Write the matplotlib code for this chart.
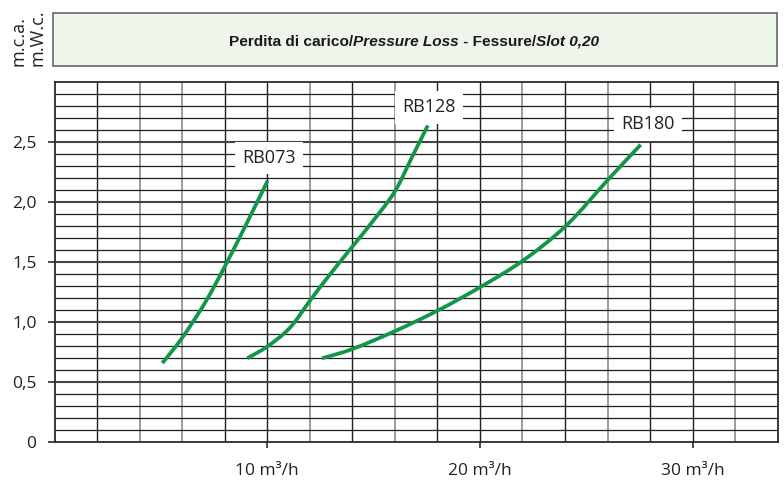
import matplotlib
matplotlib.use("Agg")
import matplotlib.pyplot as plt
from matplotlib.offsetbox import TextArea, HPacker, AnchoredOffsetbox
from matplotlib.patches import Rectangle, PathPatch
from matplotlib.path import Path
import numpy as np

# ---------------- data ----------------
rb073_x = [5.07, 6.00, 7.10, 8.05, 9.05, 10.02]
rb073_y = [0.66, 0.87, 1.17, 1.48, 1.83, 2.18]

rb128_x = [9.06, 10.02, 11.07, 12.05, 13.00, 14.00, 15.00, 16.00, 16.79, 17.55]
rb128_y = [0.70, 0.80, 0.955, 1.19, 1.41, 1.63, 1.85, 2.09, 2.37, 2.64]

rb180_x = [12.58, 14.05, 16.05, 18.04, 20.08, 22.07, 24.08, 26.08, 27.56]
rb180_y = [0.70, 0.78, 0.93, 1.10, 1.30, 1.52, 1.81, 2.20, 2.48]

series_names = ["RB073", "RB128", "RB180"]
label_pos = [(10.08, 2.37), (17.6, 2.79), (27.9, 2.65)]

y_ticks = [0, 0.5, 1.0, 1.5, 2.0, 2.5]
y_ticklabels = ["0", "0,5", "1,0", "1,5", "2,0", "2,5"]
x_ticks = [10, 20, 30]
x_ticklabels = ["10 m³/h", "20 m³/h", "30 m³/h"]
title_parts = [("Perdita di carico/", "normal"), ("Pressure Loss", "italic"),
               (" - Fessure/", "normal"), ("Slot 0,20", "italic")]
unit_labels = ["m.c.a.", "m.W.c."]

# ---------------- figure ----------------
W, H = 784, 482
fig = plt.figure(figsize=(W / 100, H / 100), dpi=100)
plt.rcParams['font.family'] = ['Open Sans', 'DejaVu Sans']

left, right, top, bottom = 54.5, 777.7, 82.3, 442.3
ax = fig.add_axes([left / W, 1 - bottom / H, (right - left) / W, (bottom - top) / H])
ax.set_xlim(0, 34)
ax.set_ylim(0, 3.0)

green = "#13954a"

# grid
grey_x = {4, 6, 12, 16, 22, 26, 32}
for gx in range(2, 34, 2):
    if gx in grey_x:
        ax.axvline(gx, color="#8a8a8a", lw=1.2, zorder=1)
    else:
        ax.axvline(gx, color="#1e1e1e", lw=1.0, zorder=1)
for i in range(1, 30):
    gy = i / 10
    if i % 5 == 0:
        ax.axhline(gy, color="#444444", lw=1.5, zorder=1)
    else:
        ax.axhline(gy, color="#1e1e1e", lw=0.9, zorder=1)

for s in ax.spines.values():
    s.set_color("#2a2a2a")
    s.set_linewidth(1.3)


def smooth_path(xs, ys):
    """Catmull-Rom path through the given points, as cubic Bezier segments."""
    p = np.column_stack([xs, ys]).astype(float)
    n = len(p)
    verts = [p[0]]
    codes = [Path.MOVETO]
    for i in range(n - 1):
        p0 = p[i - 1] if i > 0 else p[i]
        p1, p2 = p[i], p[i + 1]
        p3 = p[i + 2] if i + 2 < n else p[i + 1]
        c1 = p1 + (p2 - p0) / 6.0
        c2 = p2 - (p3 - p1) / 6.0
        verts += [c1, c2, p2]
        codes += [Path.CURVE4] * 3
    return Path(verts, codes)


# curves
for xs, ys in [(rb073_x, rb073_y), (rb128_x, rb128_y), (rb180_x, rb180_y)]:
    ax.add_patch(PathPatch(smooth_path(xs, ys), fc="none", ec=green, lw=2.7,
                           capstyle="butt", zorder=3))

# labels
for name, (lx, ly) in zip(series_names, label_pos):
    ax.text(lx, ly, name, ha="center", va="center", fontsize=13, color="#222222",
            zorder=4, bbox=dict(boxstyle="square,pad=0.4", fc="white", ec="none"))

# ticks
ax.set_yticks(y_ticks)
ax.set_yticklabels(y_ticklabels, fontsize=12.5, color="#222222")
ax.set_xticks(x_ticks)
ax.set_xticklabels(x_ticklabels, fontsize=12.5, color="#222222")
ax.tick_params(axis="y", length=5, width=1.2, pad=8, color="#2a2a2a")
ax.tick_params(axis="x", length=4, width=1.2, pad=11, color="#2a2a2a")

# title box
bx0, bx1, by0, by1 = 53.3, 777.3, 12.7, 65.7
fig.patches.append(Rectangle((bx0 / W, 1 - by1 / H), (bx1 - bx0) / W, (by1 - by0) / H,
                             transform=fig.transFigure, fc="#eef5ea", ec="#666666", lw=1.2))

fam = ['Liberation Sans Narrow', 'Liberation Sans', 'DejaVu Sans']
areas = [TextArea(t, textprops=dict(fontsize=11.1, fontweight="bold", fontstyle=st,
                                    family=fam, color="#1a1a1a"))
         for t, st in title_parts]
pack = HPacker(children=areas, align="baseline", pad=0, sep=0)
ab = AnchoredOffsetbox(loc="center", child=pack, frameon=False,
                       bbox_to_anchor=(414 / W, 1 - 41.5 / H),
                       bbox_transform=fig.transFigure, borderpad=0, pad=0)
fig.add_artist(ab)

# unit labels
for txt, ux in zip(unit_labels, [18.5, 37]):
    fig.text(ux / W, 1 - 66 / H, txt, rotation=90, ha="center", va="bottom",
             fontsize=13, color="#222222")

fig.savefig("out.png", dpi=100)
